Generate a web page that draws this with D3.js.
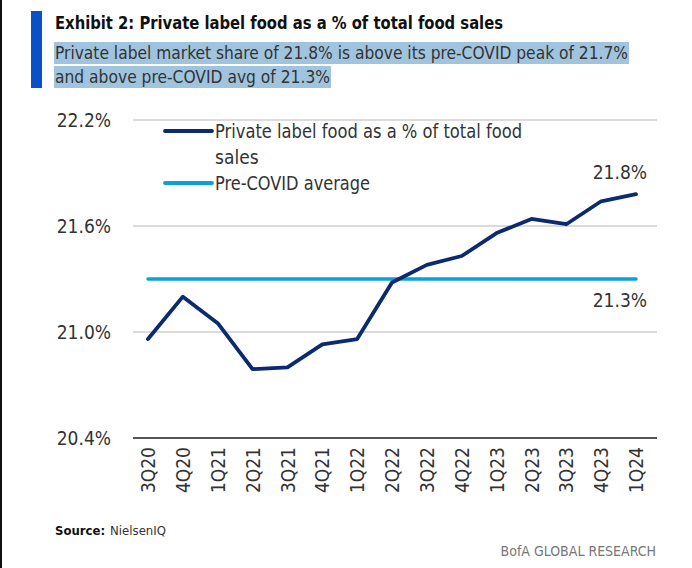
<!DOCTYPE html>
<html>
<head>
<meta charset="utf-8">
<script src="https://cdn.jsdelivr.net/npm/d3@7"></script>
<style>
  body { margin: 0; background: #fff; }
  text { font-family: "Liberation Sans Narrow", "DejaVu Sans Condensed", "Roboto", sans-serif; }
</style>
</head>
<body>
<svg id="chart" width="692" height="568"></svg>
<script>
const quarters = ["3Q20","4Q20","1Q21","2Q21","3Q21","4Q21","1Q22","2Q22","3Q22","4Q22","1Q23","2Q23","3Q23","4Q23","1Q24"];
const privateLabelShare = [20.96, 21.20, 21.05, 20.79, 20.80, 20.93, 20.96, 21.28, 21.38, 21.43, 21.56, 21.64, 21.61, 21.74, 21.78];
const preCovidAvg = 21.3;
const yTicks = [20.4, 21.0, 21.6, 22.2];

const navy = "#0b2a6f", sky = "#0aa0df";

const svg = d3.select("#chart");

// frame + title block
svg.append("rect").attr("x", 0).attr("y", 0).attr("width", 2).attr("height", 568).attr("fill", "#111");
svg.append("rect").attr("x", 31).attr("y", 11).attr("width", 11).attr("height", 77).attr("fill", "#0a50c8");

svg.append("text").attr("x", 55).attr("y", 29)
  .attr("font-size", 18).attr("font-weight", "bold").attr("fill", "#111")
  .attr("textLength", 448).attr("lengthAdjust", "spacingAndGlyphs")
  .text("Exhibit 2: Private label food as a % of total food sales");

// highlighted subtitle (selection look)
const subLines = [
  {t: "Private label market share of 21.8% is above its pre-COVID peak of 21.7%", w: 573, y: 59},
  {t: "and above pre-COVID avg of 21.3%", w: 275, y: 83}
];
subLines.forEach(l => {
  svg.append("rect").attr("x", 54).attr("y", l.y - 17).attr("width", l.w + 2).attr("height", 22).attr("fill", "#a0c4de");
  svg.append("text").attr("x", 55).attr("y", l.y)
    .attr("font-size", 18).attr("fill", "#333")
    .attr("textLength", l.w).attr("lengthAdjust", "spacingAndGlyphs")
    .text(l.t);
});

// scales
const x = d3.scalePoint().domain(quarters).range([148, 636]);
const y = d3.scaleLinear().domain([20.4, 22.2]).range([438, 120]);
const gx0 = 133, gx1 = 657;

// grid
svg.append("g").selectAll("line").data(yTicks).enter().append("line")
  .attr("x1", gx0).attr("x2", gx1)
  .attr("y1", d => y(d)).attr("y2", d => y(d))
  .attr("stroke", d => d === 20.4 ? "#555" : "#cfcfcf")
  .attr("stroke-width", d => d === 20.4 ? 2.2 : 1.6);

// y axis labels
const yAxis = d3.axisLeft(y).tickValues(yTicks).tickSize(0).tickPadding(0)
  .tickFormat(d => d.toFixed(1) + "%");
svg.append("g").attr("transform", "translate(111,0)").call(yAxis)
  .call(g => g.select(".domain").remove())
  .selectAll("text").attr("font-size", 19).attr("fill", "#333")
  .style("font-family", "'Liberation Sans Narrow', 'DejaVu Sans Condensed', sans-serif");

// x axis labels (rotated)
const xAxis = d3.axisBottom(x).tickSize(0);
svg.append("g").attr("transform", "translate(0,438)").call(xAxis)
  .call(g => g.select(".domain").remove())
  .selectAll("text")
  .attr("font-size", 19).attr("fill", "#333")
  .style("font-family", "'Liberation Sans Narrow', 'DejaVu Sans Condensed', sans-serif")
  .attr("text-anchor", "end")
  .attr("transform", "translate(0,9) rotate(-90)")
  .attr("x", 0).attr("y", 0).attr("dy", "0.35em");

// pre-covid average
svg.append("line")
  .attr("x1", x(quarters[0])).attr("x2", x(quarters[quarters.length - 1]))
  .attr("y1", y(preCovidAvg)).attr("y2", y(preCovidAvg))
  .attr("stroke", sky).attr("stroke-width", 3.5).attr("stroke-linecap", "round");

// private label share line
const line = d3.line().x((d, i) => x(quarters[i])).y(d => y(d));
svg.append("path").datum(privateLabelShare)
  .attr("d", line).attr("fill", "none")
  .attr("stroke", navy).attr("stroke-width", 3.8)
  .attr("stroke-linejoin", "round").attr("stroke-linecap", "round");

// end annotations
svg.append("text").attr("x", 647).attr("y", 179).attr("text-anchor", "end")
  .attr("font-size", 19).attr("fill", "#333").text("21.8%");
svg.append("text").attr("x", 647).attr("y", 307).attr("text-anchor", "end")
  .attr("font-size", 19).attr("fill", "#333").text("21.3%");

// legend
const legend = [
  {c: navy, y: 131, lines: ["Private label food as a % of total food", "sales"], w: 307},
  {c: sky, y: 183, lines: ["Pre-COVID average"], w: 155}
];
legend.forEach(l => {
  svg.append("line").attr("x1", 165).attr("x2", 212).attr("y1", l.y).attr("y2", l.y)
    .attr("stroke", l.c).attr("stroke-width", 3.8).attr("stroke-linecap", "round");
  l.lines.forEach((t, i) => {
    const tx = svg.append("text").attr("x", 215).attr("y", l.y + 7 + i * 26)
      .attr("font-size", 19).attr("fill", "#333").text(t);
    if (i === 0) tx.attr("textLength", l.w).attr("lengthAdjust", "spacingAndGlyphs");
  });
});

// footer
const src = svg.append("text").attr("x", 55).attr("y", 535).attr("font-size", 13).attr("fill", "#111");
src.append("tspan").attr("font-weight", "bold").text("Source:");
src.append("tspan").attr("dx", 5).attr("fill", "#333").text("NielsenIQ");

svg.append("text").attr("x", 656).attr("y", 556).attr("text-anchor", "end")
  .attr("font-size", 14).attr("fill", "#777").text("BofA GLOBAL RESEARCH");
</script>
</body>
</html>
